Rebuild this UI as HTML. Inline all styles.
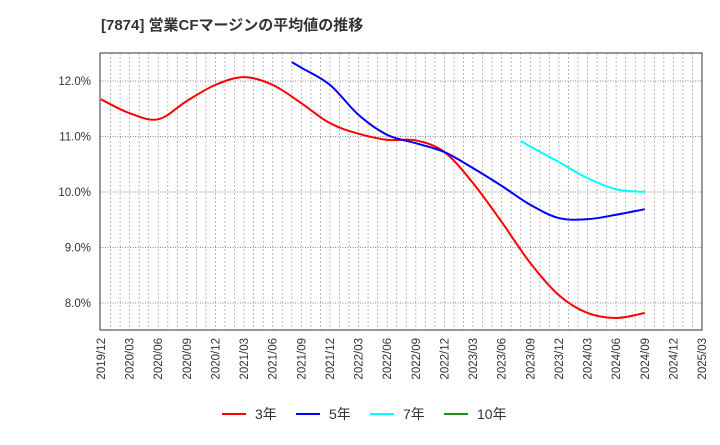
<!DOCTYPE html>
<html><head><meta charset="utf-8"><style>
body{margin:0;background:#fff;font-family:"Liberation Sans","Noto Sans CJK JP",sans-serif}
svg text{font-family:"Liberation Sans","Noto Sans CJK JP",sans-serif}
</style></head><body>
<svg id="c" width="720" height="440" xmlns="http://www.w3.org/2000/svg">
<text x="101" y="30" font-size="15" font-weight="bold" fill="#333">[7874]  営業CFマージンの平均値の推移</text>
</svg>
<script>
const xLabels=["2019/12","2020/03","2020/06","2020/09","2020/12","2021/03","2021/06","2021/09","2021/12","2022/03","2022/06","2022/09","2022/12","2023/03","2023/06","2023/09","2023/12","2024/03","2024/06","2024/09","2024/12","2025/03"];
const yTicks=[8,9,10,11,12];
// months since 2019/12
const s3m=[0,3,6,9,12,15,18,21,24,27,30,33,36,39,42,45,48,51,54,57];
const s3v=[11.67,11.42,11.31,11.64,11.93,12.07,11.93,11.6,11.24,11.05,10.94,10.93,10.72,10.16,9.46,8.72,8.14,7.82,7.73,7.82];
const s5m=[20,21,24,27,30,33,36,39,42,45,48,51,54,57];
const s5v=[12.34,12.24,11.93,11.39,11.03,10.88,10.72,10.43,10.11,9.77,9.53,9.51,9.59,9.69];
const s7m=[44,45,48,51,54,57];
const s7v=[10.92,10.82,10.54,10.25,10.05,10.0];
const L=100,R=702,T=53,B=330;
const X=m=>101+m*(R-101)/63;
const Y=v=>192-(v-10)*55.5;
const svg=document.getElementById('c');const NS="http://www.w3.org/2000/svg";
function mk(t,a,p){const e=document.createElementNS(NS,t);for(const k in a)e.setAttribute(k,a[k]);(p||svg).appendChild(e);return e;}
for(let m=1;m<63;m++){const l=mk('line',{x1:X(m),x2:X(m),y1:T,y2:B,stroke:'#aaa','stroke-dasharray':'2,2','stroke-width':0.8});

}
yTicks.forEach(v=>{const l=mk('line',{x1:L,x2:R,y1:Y(v),y2:Y(v),stroke:'#888','stroke-dasharray':'1,1.5','stroke-width':1});


const t=mk('text',{x:91,y:Y(v)+4,'font-size':11.5,fill:'#333','text-anchor':'end'});t.textContent=v.toFixed(1)+'%';

});
xLabels.forEach((s,i)=>{const x=X(i*3);const t=mk('text',{x:0,y:0,'font-size':11.5,fill:'#333','text-anchor':'end',transform:`translate(${x+4},338) rotate(-90)`});t.textContent=s;

});
function path(ms,vs){const p=ms.map((m,i)=>[X(m),Y(vs[i])]);let d=`M${p[0][0]},${p[0][1]}`;
for(let i=0;i<p.length-1;i++){const p0=p[i-1]||p[i],p1=p[i],p2=p[i+1],p3=p[i+2]||p2;
d+=`C${p1[0]+(p2[0]-p0[0])/6},${p1[1]+(p2[1]-p0[1])/6} ${p2[0]-(p3[0]-p1[0])/6},${p2[1]-(p3[1]-p1[1])/6} ${p2[0]},${p2[1]}`;}return d;}
[[s3m,s3v,'#ff0000','series-3yr'],[s5m,s5v,'#0000ff','series-5yr'],[s7m,s7v,'#00ffff','series-7yr']].forEach(([m,v,c,n])=>{
const p=mk('path',{d:path(m,v),fill:'none',stroke:c,'stroke-width':2});

});
const fr=mk('rect',{x:L,y:T,width:R-L,height:B-T,fill:'none',stroke:'#333','stroke-width':1});


[['3年','#ff0000',222],['5年','#0000ff',296],['7年','#00ffff',370],['10年','#228b22',444]].forEach(([s,c,x])=>{
const g=mk('g',{});


mk('line',{x1:x,x2:x+24,y1:414,y2:414,stroke:c,'stroke-width':2},g);
const t=mk('text',{x:x+33,y:419,'font-size':14,fill:'#333'},g);t.textContent=s;});
</script>
</body></html>
